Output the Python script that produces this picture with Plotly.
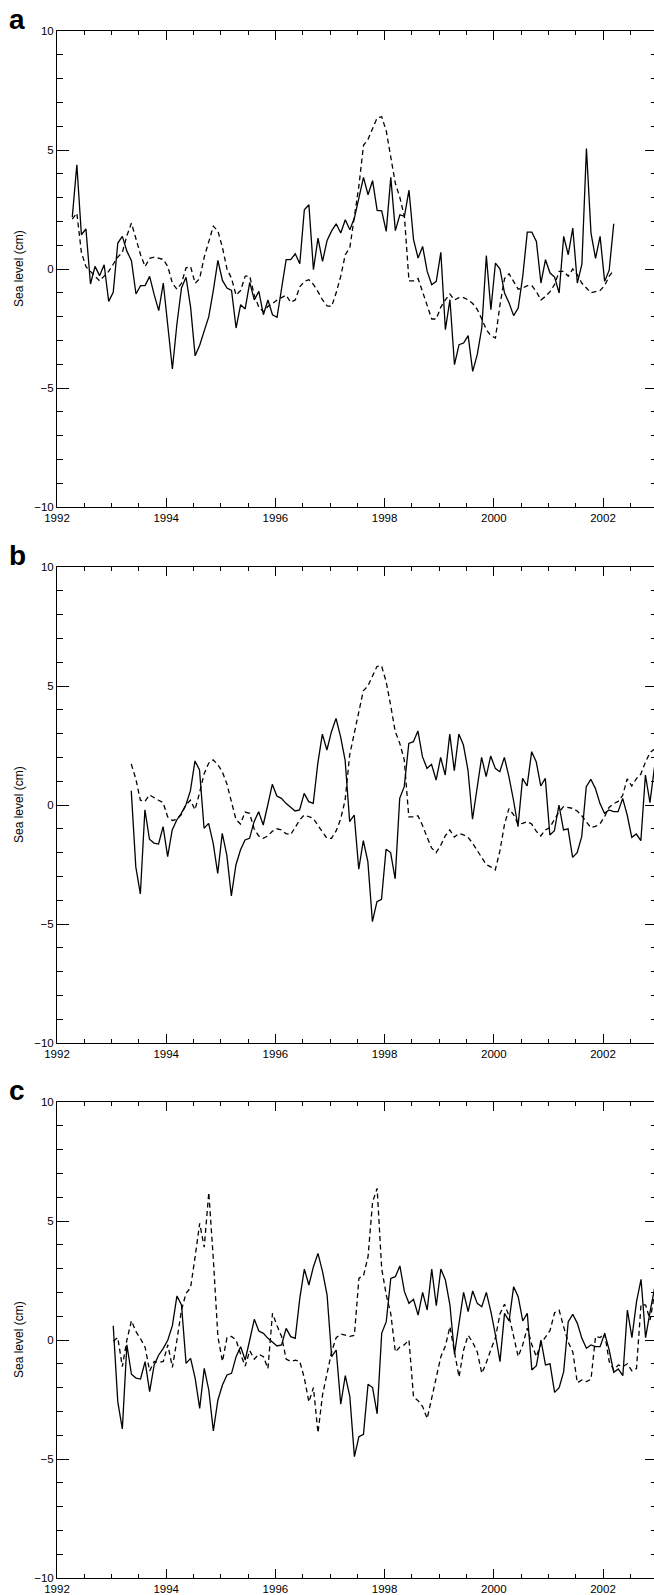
import numpy as np
import plotly.graph_objects as go

# ---------------- data (monthly values, cm) ----------------
A_START = 1992.28   # first month of panel a series (decimal year)
B_START = 1993.36
C_START = 1993.03

A_SOLID = [2.18, 4.38, 1.44, 1.68, -0.63, 0.11, -0.28, 0.18, -1.36, -0.98,
           1.09, 1.37, 0.75, 0.35, -1.05, -0.7, -0.7, -0.31, -1.08, -1.75,
           -0.59, -2.4, -4.2, -2.3, -0.8, -0.35, -1.6, -3.65, -3.2, -2.6,
           -2.0, -0.9, 0.36, -0.48, -0.8, -0.9, -2.48, -1.5, -1.68, -0.56,
           -1.3, -0.94, -1.92, -1.3, -1.92, -2.03, -0.73, 0.39, 0.39, 0.64,
           0.22, 2.49, 2.7, -0.03, 1.3, 0.32, 1.2, 1.6, 1.9, 1.51,
           2.07, 1.65, 2.14, 2.98, 3.85, 3.12, 3.71, 2.46, 2.44, 1.58,
           3.85, 1.61, 2.28, 2.21, 3.31, 1.23, 0.46, 0.95, -0.1, -0.66,
           -0.52, 0.7, -2.55, -1.29, -4.02, -3.18, -3.11, -2.8, -4.3, -3.6,
           -2.48, 0.56, -1.71, 0.25, 0.0, -1.01, -1.43, -1.96, -1.64, -0.31,
           1.55, 1.55, 1.16, -0.59, 0.39, -0.17, -0.34, -1.01, 1.37, 0.6,
           1.72, -0.59, 0.2, 5.06, 1.51, 0.45, 1.37, -0.52, -0.05, 1.9]

A_DASHED = [2.1, 2.35, 0.7, 0.1, -0.1, -0.3, -0.5, -0.3, -0.1, 0.2,
            0.5, 0.7, 1.4, 1.93, 1.3, 0.6, 0.1, 0.45, 0.5, 0.45,
            0.4, 0.1, -0.6, -0.85, -0.6, 0.05, 0.1, -0.6, -0.4, 0.5,
            1.2, 1.8, 1.6, 0.9, 0.0, -0.4, -1.1, -0.9, -0.3, -0.3,
            -1.1, -1.6, -1.8, -1.57, -1.45, -1.3, -1.2, -1.1, -1.4, -1.3,
            -0.75, -0.52, -0.45, -0.65, -0.95, -1.3, -1.55, -1.57, -1.0, -0.3,
            0.6, 0.9, 2.2, 3.5, 5.2, 5.45, 5.9, 6.35, 6.4, 5.8,
            4.7, 3.6, 3.0, 2.2, -0.5, -0.5, -0.4, -1.0, -1.6, -2.1,
            -2.1, -1.6, -1.3, -1.05, -1.3, -1.2, -1.2, -1.3, -1.45, -1.7,
            -2.1, -2.55, -2.8, -2.9, -1.5, -0.4, -0.2, -0.5, -0.85, -0.8,
            -0.7, -0.7, -0.95, -1.3, -1.15, -0.95, -0.65, -0.1, -0.1, -0.3,
            0.0, -0.25, -0.6, -0.8, -1.0, -0.95, -0.9, -0.7, -0.3, -0.06]

B_SOLID = [0.6, -2.6, -3.74, -0.2, -1.44, -1.6, -1.64, -0.91, -2.17, -1.05,
           -0.63, -0.35, 0.0, 0.6, 1.85, 1.47, -0.98, -0.77, -1.6, -2.87,
           -1.19, -2.1, -3.82, -2.52, -1.89, -1.47, -1.4, -0.7, -0.28, -0.84,
           0.0, 0.87, 0.38, 0.28, 0.07, -0.1, -0.25, -0.21, 0.49, 0.14,
           0.07, 1.75, 2.98, 2.31, 3.08, 3.64, 2.87, 1.89, -0.7, -0.42,
           -2.7, -1.5, -2.38, -4.9, -4.06, -3.96, -1.86, -2.0, -3.1, 0.28,
           0.77, 2.59, 2.66, 3.11, 2.03, 1.54, 1.71, 1.05, 2.0, 1.26,
           2.98, 1.44, 2.98, 2.52, 1.47, -0.6, 0.7, 2.0, 1.19, 2.06,
           1.54, 1.4, 2.0, 1.19, 0.21, -0.91, 1.12, 0.8, 2.24, 1.82,
           0.8, 1.12, -1.26, -1.08, 0.0, -1.05, -1.0, -2.2, -2.0, -1.33,
           0.77, 1.08, 0.7, 0.07, -0.35, -0.21, -0.28, -0.28, 0.28, -0.42,
           -1.36, -1.22, -1.5, 1.26, 0.1, 1.6]

B_DASHED = [1.72, 1.1, 0.2, 0.15, 0.42, 0.3, 0.2, 0.1, -0.5, -0.65,
            -0.6, -0.4, 0.0, 0.2, -0.2, 0.5, 1.3, 1.75, 1.9, 1.7,
            1.4, 0.9, 0.2, -0.6, -0.8, -0.3, -0.35, -1.0, -1.3, -1.4,
            -1.3, -1.1, -1.0, -1.05, -1.2, -1.25, -0.95, -0.63, -0.42, -0.48,
            -0.56, -0.85, -1.15, -1.4, -1.4, -1.1, -0.6, 0.2, 2.1, 3.0,
            4.0, 4.8, 5.0, 5.45, 5.82, 5.85, 5.2, 4.2, 3.1, 2.6,
            1.9, -0.5, -0.5, -0.45, -0.85, -1.35, -1.8, -2.0, -1.7, -1.3,
            -1.05, -1.35, -1.2, -1.25, -1.35, -1.6, -1.9, -2.2, -2.5, -2.6,
            -2.73, -1.95, -0.85, -0.15, -0.4, -0.8, -0.77, -0.7, -0.8, -1.1,
            -1.3, -1.05, -0.95, -0.6, -0.3, -0.07, -0.12, -0.14, -0.25, -0.45,
            -0.7, -0.95, -0.9, -0.8, -0.5, -0.1, 0.05, 0.15, 0.4, 1.1,
            0.8, 1.1, 1.3, 1.8, 2.2, 2.35]

C_SOLID = [0.6, -2.6, -3.74, -0.2, -1.44, -1.6, -1.64, -0.91, -2.17, -1.05,
           -0.63, -0.35, 0.0, 0.6, 1.85, 1.47, -0.98, -0.77, -1.6, -2.87,
           -1.19, -2.1, -3.82, -2.52, -1.89, -1.47, -1.4, -0.7, -0.28, -0.84,
           0.0, 0.87, 0.38, 0.28, 0.07, -0.1, -0.25, -0.21, 0.49, 0.14,
           0.07, 1.75, 2.98, 2.31, 3.08, 3.64, 2.87, 1.89, -0.7, -0.42,
           -2.7, -1.5, -2.38, -4.9, -4.06, -3.96, -1.86, -2.0, -3.1, 0.28,
           0.77, 2.59, 2.66, 3.11, 2.03, 1.54, 1.71, 1.05, 2.0, 1.26,
           2.98, 1.44, 2.98, 2.52, 1.47, -0.6, 0.7, 2.0, 1.19, 2.06,
           1.54, 1.4, 2.0, 1.19, 0.21, -0.91, 1.12, 0.8, 2.24, 1.82,
           0.8, 1.12, -1.26, -1.08, 0.0, -1.05, -1.0, -2.2, -2.0, -1.33,
           0.77, 1.08, 0.7, 0.07, -0.35, -0.21, -0.28, -0.28, 0.28, -0.42,
           -1.36, -1.22, -1.5, 1.26, 0.1, 1.6, 2.55, 0.1, 1.2, 2.2]

C_DASHED = [-0.05, 0.1, -1.12, 0.0, 0.81, 0.35, 0.05, -0.3, -1.3, -0.9,
            -0.95, -0.9, -0.2, -1.15, 0.0, 1.26, 1.96, 2.2, 3.5, 4.9,
            3.9, 6.2, 3.4, 0.14, -0.9, 0.1, 0.15, 0.0, -0.6, -1.1,
            -0.45, -0.8, -0.6, -0.7, -1.2, 1.12, 0.6, 0.15, -0.8, -0.9,
            -0.85, -0.9, -1.6, -2.6, -2.0, -3.9, -2.3, -1.4, -0.5, 0.1,
            0.25, 0.2, 0.15, 0.2, 2.6, 2.7, 3.5, 5.8, 6.37, 3.0,
            1.9, 1.1, -0.5, -0.3, -0.2, 0.0, -2.4, -2.55, -2.8, -3.3,
            -2.4, -1.45, -0.7, -0.25, 0.56, -0.5, -1.55, -0.42, 0.2, -0.1,
            -0.5, -1.4, -0.95, -0.4, 0.1, 1.1, 1.5, 1.0, 0.1, -0.7,
            -0.2, 0.5, -0.2, -0.7, -0.15, 0.1, 0.4, 1.15, 1.25, 0.55,
            -0.1, -0.5, -1.8, -1.68, -1.75, -1.65, 0.15, 0.1, 0.28, -0.9,
            -1.26, -1.05, -1.12, -1.0, -1.3, -1.2, 1.5, 1.47, 0.84, 2.0]

PANEL_LETTERS = ["a", "b", "c"]
Y_TITLE = "Sea level (cm)"
X_TICK0, X_DTICK, X_MINOR = 1992, 2, 0.5
Y_RANGE = [-10, 10]


def months(start, n):
    return start + np.arange(n) / 12.0


# ---------------- layout geometry ----------------
W, H = 654, 1595
ML = 57
PX_PER_YEAR = 54.6
X_RANGE = [1992, 1992 + (W - ML) / PX_PER_YEAR]
PANELS_PX = [(31, 507), (567, 1043), (1102, 1578)]   # top, bottom (px)
FONT = "Liberation Sans, Arial, Helvetica, sans-serif"
TICK_FONT = dict(family=FONT, size=11.5, color="black")


def py(px):
    return 1 - px / H


def pxx(px):
    return (px - ML) / (W - ML)


series = [(A_START, A_SOLID, A_DASHED),
          (B_START, B_SOLID, B_DASHED),
          (C_START, C_SOLID, C_DASHED)]

fig = go.Figure()
layout = dict(
    width=W, height=H, template="none",
    margin=dict(l=ML, r=0, t=0, b=0, pad=0),
    paper_bgcolor="white", plot_bgcolor="white",
    showlegend=False,
    font=dict(family=FONT, size=11, color="black"),
)
annotations = []

for i, ((start, solid, dashed), (top, bot), letter) in enumerate(
        zip(series, PANELS_PX, PANEL_LETTERS)):
    n = i + 1
    xs = "x" if n == 1 else f"x{n}"
    ys = "y" if n == 1 else f"y{n}"
    yr = f"y{n + 3}"
    fig.add_trace(go.Scatter(x=months(start, len(solid)), y=solid, mode="lines",
                             line=dict(color="black", width=1.3),
                             xaxis=xs, yaxis=ys, hoverinfo="skip"))
    fig.add_trace(go.Scatter(x=months(start, len(dashed)), y=dashed, mode="lines",
                             line=dict(color="black", width=1.3, dash="5px,3.5px"),
                             xaxis=xs, yaxis=ys, hoverinfo="skip"))
    # invisible trace on right overlay axis (carries the right-side ticks)
    fig.add_trace(go.Scatter(x=[X_RANGE[0]], y=[0], mode="markers",
                             marker=dict(opacity=0), xaxis=xs, yaxis=yr,
                             hoverinfo="skip"))
    dom = [py(bot), py(top)]
    layout["xaxis" if n == 1 else f"xaxis{n}"] = dict(
        domain=[0, 1], anchor=ys, range=X_RANGE,
        tick0=X_TICK0, dtick=X_DTICK, ticks="inside", ticklen=9,
        tickwidth=1, tickcolor="black",
        minor=dict(tick0=X_TICK0, dtick=X_MINOR, ticks="inside", ticklen=4,
                   tickwidth=1, tickcolor="black", showgrid=False),
        showline=True, linecolor="black", linewidth=1, mirror="ticks",
        showgrid=False, zeroline=False, automargin=False,
        tickfont=TICK_FONT, fixedrange=True,
    )
    layout["yaxis" if n == 1 else f"yaxis{n}"] = dict(
        domain=dom, anchor=xs, range=Y_RANGE,
        tick0=0, dtick=5, ticks="inside", ticklen=12, tickwidth=1,
        tickcolor="black",
        minor=dict(tick0=0, dtick=1, ticks="inside", ticklen=6, tickwidth=1,
                   tickcolor="black", showgrid=False),
        showline=True, linecolor="black", linewidth=1,
        showgrid=False, zeroline=False, automargin=False,
        tickfont=TICK_FONT, fixedrange=True,
    )
    layout[f"yaxis{n + 3}"] = dict(
        overlaying=ys, side="right", anchor=xs, range=Y_RANGE,
        tick0=0, dtick=5, ticks="inside", ticklen=9, tickwidth=1,
        tickcolor="black",
        minor=dict(tick0=0, dtick=1, ticks="inside", ticklen=3, tickwidth=1,
                   tickcolor="black", showgrid=False),
        showline=False, showticklabels=False, showgrid=False, zeroline=False,
        automargin=False, fixedrange=True,
    )
    # y-axis title
    annotations.append(dict(
        text=Y_TITLE, textangle=-90, xref="paper", yref="paper",
        x=pxx(19), y=py((top + bot) / 2), xanchor="center", yanchor="middle",
        showarrow=False, font=dict(family=FONT, size=12, color="black")))
    # panel letter
    annotations.append(dict(
        text=f"<b>{letter}</b>", xref="paper", yref="paper",
        x=pxx(7), y=py(top + 6), xanchor="left", yanchor="bottom",
        showarrow=False, font=dict(family=FONT, size=28, color="black")))

layout["annotations"] = annotations
fig.update_layout(**layout)
fig.write_html(
    "out.html",
    config={"displayModeBar": False, "staticPlot": True},
    post_script=("document.body.style.margin='0';"
                 "document.body.style.overflow='hidden';"
                 "document.documentElement.style.overflow='hidden';"),
)
